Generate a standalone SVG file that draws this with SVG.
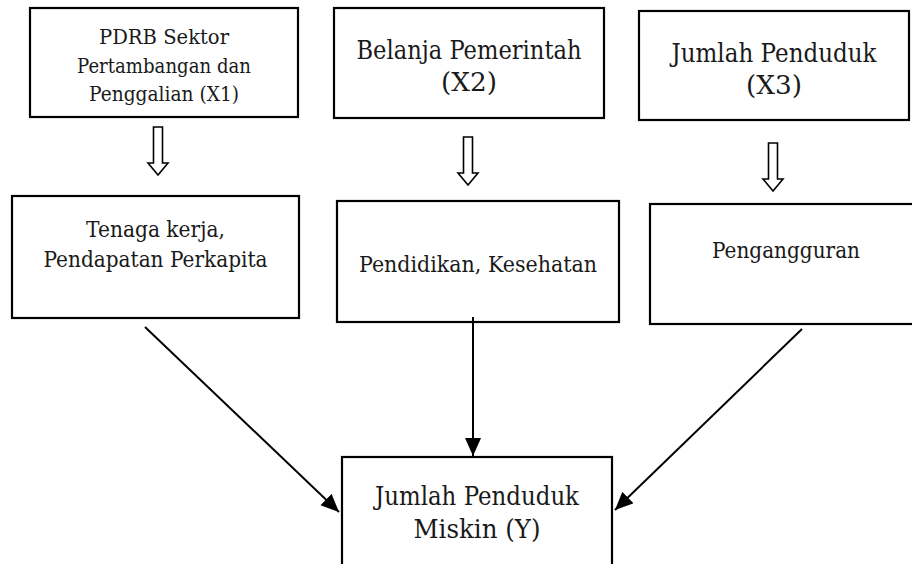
<svg xmlns="http://www.w3.org/2000/svg" width="912" height="564" viewBox="0 0 912 564">
<style>
.box{fill:#fff;stroke:#000;stroke-width:2.2}
.t{font-family:'DejaVu Serif',serif;fill:#1a1a1a;text-anchor:middle}
.conn{stroke:#000;stroke-width:2;fill:none}
.hollow{fill:#fff;stroke:#000;stroke-width:1.6;stroke-linejoin:miter}
</style>
<defs>
<marker id="ah" markerUnits="userSpaceOnUse" markerWidth="19" markerHeight="17" refX="18" refY="8" orient="auto">
<path d="M0,0 L18,8 L0,16 Z" fill="#000"/>
</marker>
<path id="harrow" d="M-4.5,0 H4.5 V36 H10 L0,48 L-10,36 H-4.5 Z"/>
</defs>
<rect width="912" height="564" fill="#fff"/>
<g id="x1">
<rect class="box" x="30" y="8" width="268" height="109"/>
<text class="t" font-size="21" x="164" y="44" textLength="130" lengthAdjust="spacingAndGlyphs">PDRB Sektor</text>
<text class="t" font-size="21" x="164" y="72.5" textLength="174" lengthAdjust="spacingAndGlyphs">Pertambangan dan</text>
<text class="t" font-size="21" x="164" y="101" textLength="150" lengthAdjust="spacingAndGlyphs">Penggalian (X1)</text>
</g>
<g id="x2">
<rect class="box" x="334" y="8" width="270" height="110"/>
<text class="t" font-size="25.5" x="469" y="59" textLength="225" lengthAdjust="spacingAndGlyphs">Belanja Pemerintah</text>
<text class="t" font-size="25.5" x="469" y="91" textLength="56" lengthAdjust="spacingAndGlyphs">(X2)</text>
</g>
<g id="x3">
<rect class="box" x="639" y="11" width="270" height="109"/>
<text class="t" font-size="25.5" x="774" y="62" textLength="205" lengthAdjust="spacingAndGlyphs">Jumlah Penduduk</text>
<text class="t" font-size="25.5" x="774" y="94" textLength="56" lengthAdjust="spacingAndGlyphs">(X3)</text>
</g>
<g id="m1">
<rect class="box" x="12" y="196" width="287" height="122"/>
<text class="t" font-size="23" x="155.5" y="237" textLength="139" lengthAdjust="spacingAndGlyphs">Tenaga kerja,</text>
<text class="t" font-size="23" x="155.5" y="267" textLength="224" lengthAdjust="spacingAndGlyphs">Pendapatan Perkapita</text>
</g>
<g id="m2">
<rect class="box" x="337" y="201" width="282" height="121"/>
<text class="t" font-size="23" x="478" y="272" textLength="238" lengthAdjust="spacingAndGlyphs">Pendidikan, Kesehatan</text>
</g>
<g id="m3">
<rect class="box" x="650" y="204" width="272" height="120"/>
<text class="t" font-size="23" x="786" y="258" textLength="148" lengthAdjust="spacingAndGlyphs">Pengangguran</text>
</g>
<g id="y">
<rect class="box" x="342" y="457" width="270" height="130"/>
<text class="t" font-size="25.5" x="477" y="505" textLength="204" lengthAdjust="spacingAndGlyphs">Jumlah Penduduk</text>
<text class="t" font-size="25.5" x="477" y="538" textLength="127" lengthAdjust="spacingAndGlyphs">Miskin (Y)</text>
</g>
<g id="connectors">
<use href="#harrow" class="hollow" x="158" y="127"/>
<use href="#harrow" class="hollow" x="468" y="137"/>
<use href="#harrow" class="hollow" x="773" y="143"/>
<line class="conn" x1="473" y1="317" x2="473" y2="456" marker-end="url(#ah)"/>
<line class="conn" x1="145" y1="327" x2="339" y2="512" marker-end="url(#ah)"/>
<line class="conn" x1="802" y1="329" x2="615" y2="510" marker-end="url(#ah)"/>
</g>
</svg>
